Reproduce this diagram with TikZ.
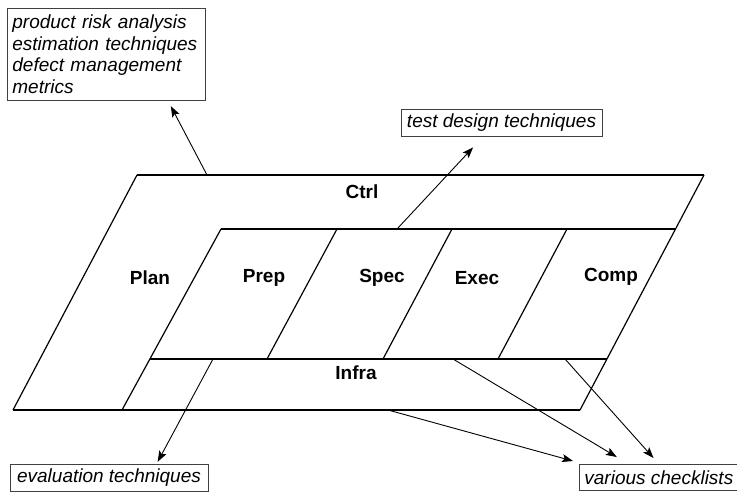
\documentclass[tikz,border=0pt]{standalone}
\usepackage{fontspec}
\setmainfont{Liberation Sans}
\usetikzlibrary{calc,arrows.meta}

\newcommand{\labelsize}{\fontsize{9.5}{10.75}\selectfont}

\tikzset{
  phase/.style={font=\labelsize\bfseries},
  note/.style={draw=black!75, line width=0.4pt, font=\labelsize\itshape,
    inner xsep=2.5pt, inner ysep=1.5pt},
  pointer/.style={-{Stealth[length=5.5pt,width=4pt,inset=1.2pt]}, line width=0.45pt},
  rim/.style={line width=1pt},
  slant/.style={line width=0.6pt},
}

\begin{document}
\begin{tikzpicture}[x=0.5pt,y=-0.5pt,line cap=butt]
\useasboundingbox (0,0) rectangle (737,492);

% outer frame
\coordinate (TL) at (137,175);
\coordinate (TR) at (704,175);
\coordinate (BR) at (580,410);
\coordinate (BL) at (13,410);
% phase block
\coordinate (PTL) at (221,229);
\coordinate (PTR) at (675,229);
\coordinate (PBL) at (150,359);
\coordinate (PBR) at (607,359);
\coordinate (FOOT) at (122,410);

\draw[rim] (TL) -- (TR);
\draw[rim] (BL) -- (BR);
\draw[rim] (PTL) -- (PTR);
\draw[rim] (PBL) -- (PBR);
\draw[slant] (TL) -- (BL);
\draw[slant] (TR) -- (BR);
\draw[slant] (PTL) -- (FOOT);
\foreach \t/\b in {337/267, 452/383, 567/498}
  \draw[slant] (\t,229) -- (\b,359);

% band and phase names
\node[phase] (ctrl)  at (362,192) {Ctrl};
\node[phase] (infra) at (356,373) {Infra};
\node[phase] (plan)  at (150,278) {Plan};
\node[phase] (prep)  at (264,278) {Prep};
\node[phase] (spec)  at (382,278) {Spec};
\node[phase] (exec)  at (477,278) {Exec};
\node[phase] (comp)  at (611,277) {Comp};

% notes
\node[note, anchor=north west, text width=94pt, minimum height=46pt, align=left]
  (risk) at (7,8) {product risk analysis\\estimation techniques\\defect management\\metrics};
\node[note, minimum width=100.5pt, minimum height=13.5pt] (design) at (501.5,122.5) {test design techniques};
\node[note, minimum width=99pt, minimum height=13.5pt] (evaluation) at (109,477.5) {evaluation techniques};
\node[note, anchor=north west, minimum width=78.5pt, minimum height=13pt] (checks) at (579,464) {various checklists};

% where the pointers leave the frame
\coordinate (fromctrl)  at (207,175);
\coordinate (fromspec)  at (397,229);
\coordinate (frominfra) at (213,359);
\coordinate (fromexec)  at (453,359);
\coordinate (fromcomp)  at (565,359);
\coordinate (frombase)  at (388,410);

\draw[pointer, shorten >=3pt]   (fromctrl)  -- ($(risk.south west)!0.81!(risk.south east)$);
\draw[pointer, shorten >=7.5pt] (fromspec)  -- ($(design.south west)!0.41!(design.south east)$);
\draw[pointer, shorten >=1pt]   (frominfra) -- ($(evaluation.north west)!0.74!(evaluation.north east)$);
\draw[pointer, shorten >=6.8pt] (fromexec)  -- ($(checks.north west)!0.31!(checks.north east)$);
\draw[pointer, shorten >=4pt]   (fromcomp)  -- ($(checks.north west)!0.5!(checks.north east)$);
\draw[pointer, shorten >=5.6pt] (frombase)  -- ($(checks.north west)!0.03!(checks.north east)$);
\end{tikzpicture}
\end{document}
